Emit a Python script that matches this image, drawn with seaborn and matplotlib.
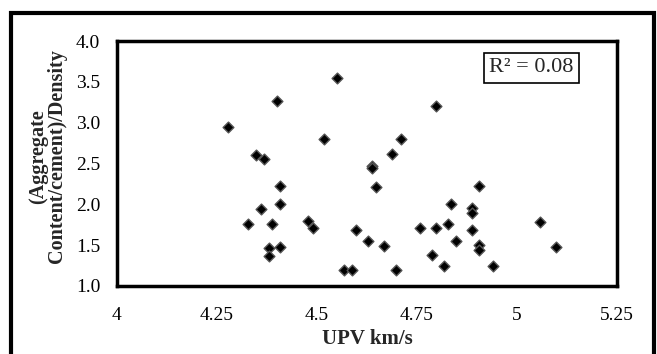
import matplotlib
matplotlib.use("Agg")
import matplotlib.pyplot as plt
import seaborn as sns
import pandas as pd
from matplotlib.patches import Rectangle

upv = [4.549, 4.399, 4.278, 4.518, 4.348, 4.368, 4.638, 4.638, 4.688, 4.709,
       4.647, 4.408, 4.408, 4.359, 4.328, 4.388, 4.478, 4.489, 4.598, 4.628,
       4.668, 4.379, 4.379, 4.408, 4.568, 4.588, 4.798, 4.906, 4.836, 4.888,
       4.888, 4.758, 4.798, 4.828, 4.888, 5.058, 4.848, 4.906, 4.906, 5.097,
       4.788, 4.818, 4.939, 4.698]
ratio = [3.55, 3.27, 2.95, 2.80, 2.61, 2.56, 2.47, 2.44, 2.62, 2.80,
         2.21, 2.23, 2.01, 1.94, 1.76, 1.76, 1.79, 1.71, 1.69, 1.55,
         1.49, 1.46, 1.37, 1.48, 1.20, 1.20, 3.20, 2.22, 2.01, 1.96,
         1.89, 1.71, 1.71, 1.76, 1.68, 1.78, 1.55, 1.50, 1.44, 1.48,
         1.38, 1.24, 1.24, 1.20]
xticks = [4, 4.25, 4.5, 4.75, 5, 5.25]
yticks = [1.0, 1.5, 2.0, 2.5, 3.0, 3.5, 4.0]
r2_text = "R² = 0.08"

df = pd.DataFrame({"UPV": upv, "ratio": ratio})

sns.set_theme(style="white")
plt.rcParams["font.family"] = ["Liberation Serif", "DejaVu Serif"]

fig = plt.figure(figsize=(6.57, 3.54), dpi=100)
ax = fig.add_axes([117/657, 1-286/354, (617-117)/657, (286-41)/354])

sns.scatterplot(data=df, x="UPV", y="ratio", marker="D", s=30, color="black",
                edgecolor="#555555", linewidth=1.0, ax=ax, zorder=3)

ax.set_xlim(4, 5.25)
ax.set_ylim(1.0, 4.0)
ax.set_xticks(xticks)
ax.set_xticklabels([f"{t:g}" for t in xticks], fontsize=14)
ax.set_yticks(yticks)
ax.set_yticklabels([f"{t:.1f}" for t in yticks], fontsize=14)
ax.tick_params(axis="x", length=0, pad=15, colors="black")
ax.tick_params(axis="y", length=0, pad=12, colors="black")
ax.set_xlabel("UPV km/s", fontsize=15, fontweight="bold", labelpad=4)
ax.set_ylabel("(Aggregate\nContent/cement)/Density", fontsize=14.5,
              fontweight="bold", linespacing=0.95)
ax.yaxis.set_label_coords(-0.10, 0.53)
for sp in ax.spines.values():
    sp.set_color("black")
    sp.set_linewidth(2.5)

ax.text(0.913, 0.89, r2_text, transform=ax.transAxes, ha="right", va="center",
        fontsize=16, bbox=dict(boxstyle="square,pad=0.25", fc="white", ec="black", lw=1.2))

fig.patches.append(Rectangle((11/657, -0.05), (643/657), 1-13/354+0.05,
                             transform=fig.transFigure, fill=False,
                             ec="black", lw=3, zorder=10))

fig.savefig("out.png", dpi=100)
